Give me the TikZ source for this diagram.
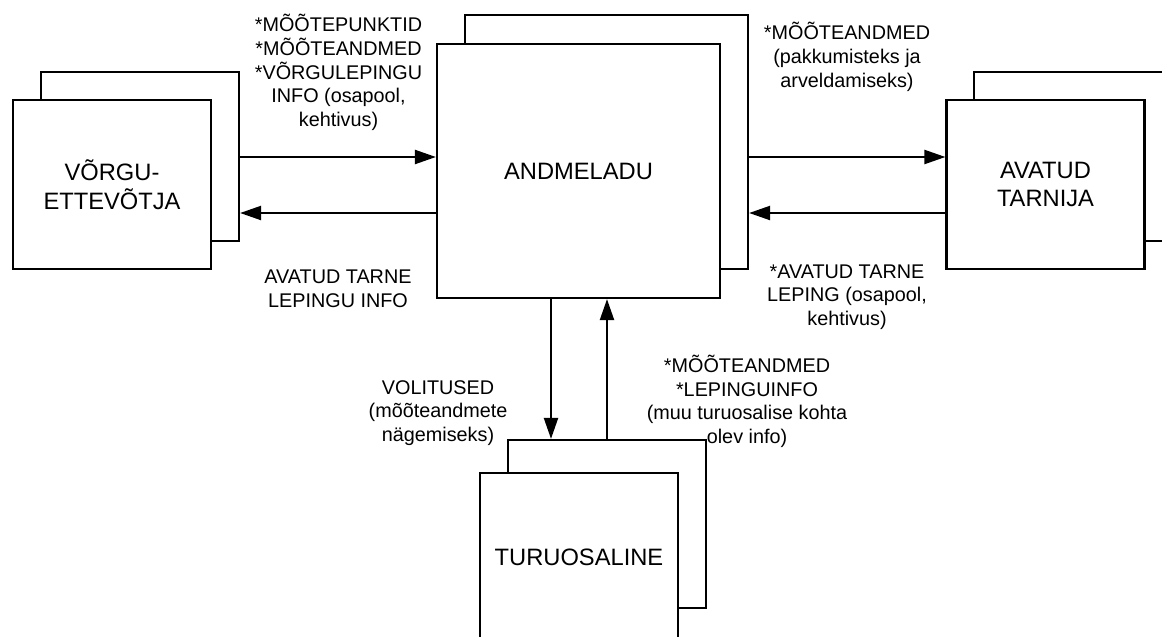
\documentclass[tikz,border=0pt]{standalone}
\usepackage{fontspec}
\setmainfont{Liberation Sans}
\usetikzlibrary{arrows.meta}

\begin{document}
\begin{tikzpicture}[x=1pt, y=-1pt, line width=2.2pt,
    box/.style={draw, fill=white, minimum width=198pt, minimum height=169pt,
        inner sep=0pt, align=center, font=\fontsize{23.7}{28.7}\selectfont},
    lbl/.style={align=center, inner sep=0pt, font=\fontsize{19.8}{23.7}\selectfont},
    flow/.style={-{Triangle[length=21pt, width=14pt]}}]
    \clip (0,0) rectangle (1162,637);

    % back sheets
    \foreach \n/\x/\y in {Vb/140/156.5, Tb/1073/156.5}
    \node[box] (\n) at (\x,\y) {};
    \node[box, minimum width=283pt, minimum height=254pt] (Ab) at (606.5,142) {};
    \node[box, minimum height=168pt] (Kb) at (607,524) {};

    % front sheets
    \node[box] (V) at (112,184.5) {VÕRGU-\\ETTEVÕTJA};
    \node[box, minimum width=283pt, minimum height=254pt] (A) at (578.5,171) {ANDMELADU};
    \node[box] (T) at (1045.5,184.5) {AVATUD\\TARNIJA};
    \node[box, minimum height=168pt] (K) at (579,557) {TURUOSALINE};

    \coordinate (hi) at (0,157);
    \coordinate (lo) at (0,213);
    \coordinate (dn) at (551,0);

    \draw[flow] (hi -| Vb.east) -- (hi -| A.west);
    \draw[flow] (lo -| A.west) -- (lo -| Vb.east);
    \draw[flow] (hi -| Ab.east) -- (hi -| T.west);
    \draw[flow] (lo -| T.west) -- (lo -| Ab.east);
    \draw[flow] (dn |- A.south) -- (dn |- Kb.north);
    \draw[flow] (Kb.north) -- (Kb.north |- A.south);

    \node[lbl] (l1) at (338.5,72.5) {*MÕÕTEPUNKTID\\*MÕÕTEANDMED\\*VÕRGULEPINGU\\INFO (osapool,\\kehtivus)};
    \node[lbl] (l2) at (338,289) {AVATUD TARNE\\LEPINGU INFO};
    \node[lbl] (l3) at (847,57) {*MÕÕTEANDMED\\(pakkumisteks ja\\arveldamiseks)};
    \node[lbl] (l4) at (847,297) {*AVATUD TARNE\\LEPING (osapool,\\kehtivus)};
    \node[lbl] (l5) at (438,413) {VOLITUSED\\(mõõteandmete\\nägemiseks)};
    \node[lbl] (l6) at (747,401.5) {*MÕÕTEANDMED\\*LEPINGUINFO\\(muu turuosalise kohta\\olev info)};
\end{tikzpicture}
\end{document}
